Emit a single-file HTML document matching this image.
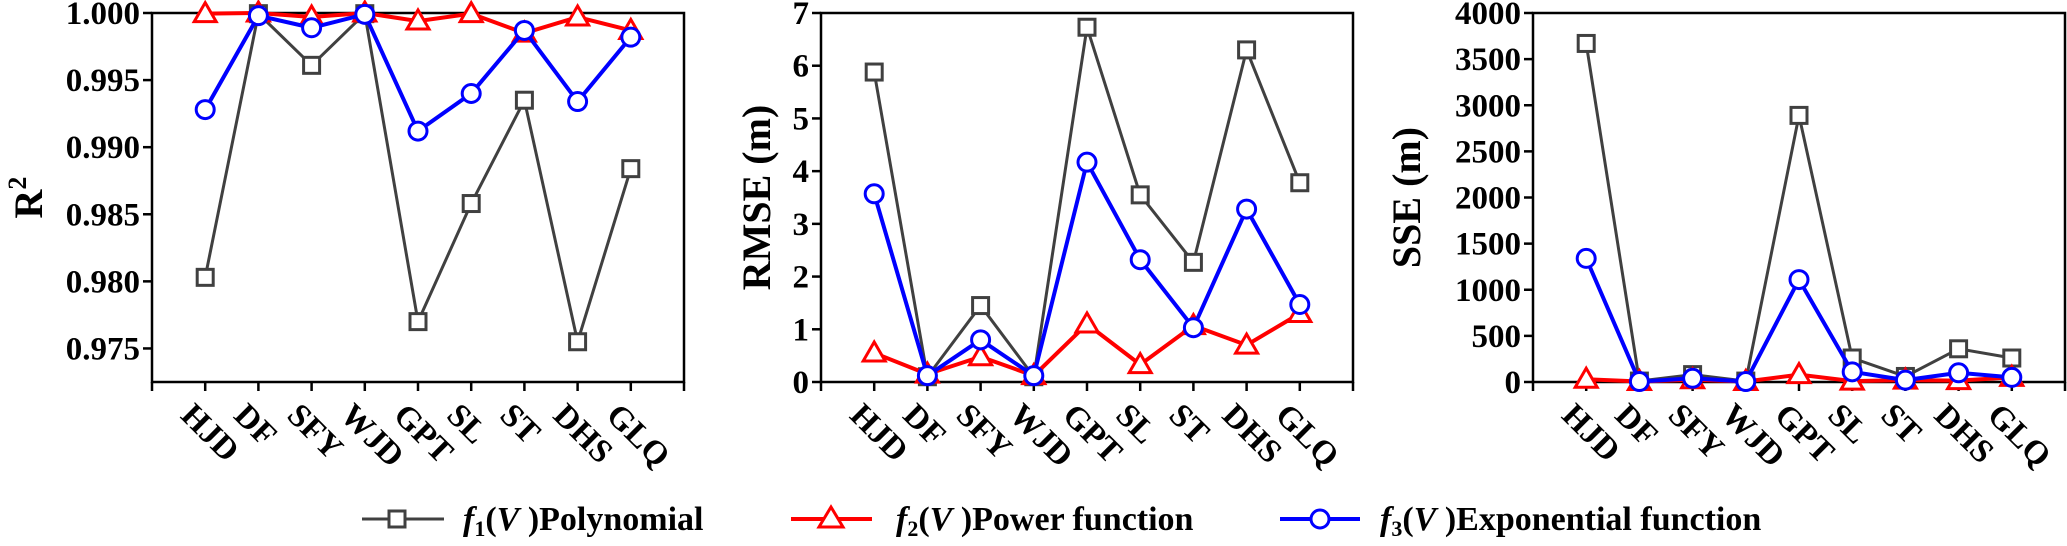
<!DOCTYPE html>
<html><head><meta charset="utf-8"><style>
html,body{margin:0;padding:0;background:#fff;}
svg, svg text{font-family:"Liberation Serif","DejaVu Serif",serif;font-weight:bold;}
</style></head><body>
<svg id="fig" width="2067" height="541" viewBox="0 0 2067 541" xmlns="http://www.w3.org/2000/svg" font-family="Liberation Serif, DejaVu Serif, serif" font-weight="bold">
<g id="legend">
  <g>
    <line x1="362" y1="519" x2="444" y2="519" stroke="#404040" stroke-width="3"/>
    <rect x="389" y="511" width="16" height="16" fill="#fff" stroke="#404040" stroke-width="3"/>
    <text x="463" y="530" font-size="34" font-family="Liberation Serif, serif"><tspan font-style="italic">f</tspan><tspan font-size="22" dy="6">1</tspan><tspan dy="-6">(</tspan><tspan font-style="italic">V</tspan> )Polynomial</text>
  </g>
  <g>
    <line x1="791" y1="519" x2="872" y2="519" stroke="#ff0000" stroke-width="4"/>
    <polygon points="831,507 843,527 819,527" fill="#fff" stroke="#ff0000" stroke-width="3"/>
    <text x="896" y="530" font-size="34" font-family="Liberation Serif, serif"><tspan font-style="italic">f</tspan><tspan font-size="22" dy="6">2</tspan><tspan dy="-6">(</tspan><tspan font-style="italic">V</tspan> )Power function</text>
  </g>
  <g>
    <line x1="1280" y1="519" x2="1360" y2="519" stroke="#0000ff" stroke-width="4"/>
    <circle cx="1320" cy="519" r="9" fill="#fff" stroke="#0000ff" stroke-width="3"/>
    <text x="1380" y="530" font-size="34" font-family="Liberation Serif, serif"><tspan font-style="italic">f</tspan><tspan font-size="22" dy="6">3</tspan><tspan dy="-6">(</tspan><tspan font-style="italic">V</tspan> )Exponential function</text>
  </g>
</g>
</svg>
<script>
const categories = ["HJD","DF","SFY","WJD","GPT","SL","ST","DHS","GLQ"];
const r2Poly  = [0.9803,0.99995,0.9961,0.99995,0.9770,0.9858,0.9935,0.9755,0.9884];
const r2Power = [0.99995,1.0000,0.9997,1.0000,0.9994,0.99995,0.9985,0.9997,0.9987];
const r2Exp   = [0.9928,0.9998,0.9989,0.9999,0.9912,0.9940,0.9987,0.9934,0.9982];
const r2Ticks = ["0.975","0.980","0.985","0.990","0.995","1.000"];
const rmsePoly  = [5.88,0.10,1.45,0.10,6.73,3.55,2.27,6.30,3.78];
const rmsePower = [0.55,0.15,0.48,0.12,1.10,0.33,1.07,0.70,1.30];
const rmseExp   = [3.57,0.12,0.80,0.12,4.17,2.32,1.03,3.28,1.47];
const rmseTicks = ["0","1","2","3","4","5","6","7"];
const ssePoly  = [3670,10,80,10,2890,260,60,360,260];
const ssePower = [30,5,25,5,80,10,20,15,50];
const sseExp   = [1340,5,40,5,1110,110,20,100,50];
const sseTicks = ["0","500","1000","1500","2000","2500","3000","3500","4000"];

const NS="http://www.w3.org/2000/svg";
const svg=document.getElementById('fig');
const FONT="Liberation Serif, DejaVu Serif, serif";
function mk(tag,attrs,parent){const e=document.createElementNS(NS,tag);for(const k in attrs)e.setAttribute(k,attrs[k]);(parent||svg).appendChild(e);return e;}

const panels=[
 {name:'r2',left:152,right:684,min:0.9725,max:1.0,ticks:r2Ticks,series:[r2Poly,r2Power,r2Exp],label:'R',sup:'2',labelX:42},
 {name:'rmse',left:821,right:1353,min:0,max:7,ticks:rmseTicks,series:[rmsePoly,rmsePower,rmseExp],label:'RMSE (m)',labelX:770},
 {name:'sse',left:1533,right:2065,min:0,max:4000,ticks:sseTicks,series:[ssePoly,ssePower,sseExp],label:'SSE (m)',labelX:1420}
];
const plotTop=13,plotBottom=382;
const styles=[{c:'#404040',w:3,m:'sq'},{c:'#ff0000',w:4,m:'tri'},{c:'#0000ff',w:4,m:'circ'}];
const snames=['polynomial','power','exponential'];

panels.forEach(p=>{
  const g=mk('g',{});
  
  
  const xs=i=>p.left+(i+1)*(p.right-p.left)/10;
  const ys=v=>plotBottom-(v-p.min)/(p.max-p.min)*(plotBottom-plotTop);
  const fr=mk('rect',{x:p.left,y:plotTop,width:p.right-p.left,height:plotBottom-plotTop,fill:'none',stroke:'#000','stroke-width':2.5},g);
  
  
  p.ticks.forEach(t=>{
    const v=parseFloat(t), y=ys(v);
    mk('line',{x1:p.left-9,x2:p.left,y1:y,y2:y,stroke:'#000','stroke-width':2.5},g);
    const tx=mk('text',{x:p.left-12,y:y+11,'font-size':33,'text-anchor':'end','font-family':FONT,'font-weight':'bold'},g);
    tx.textContent=t;
    
    
  });
  for(let i=-1;i<=9;i++){
    const x=p.left+(i+1)*(p.right-p.left)/10;
    mk('line',{x1:x,x2:x,y1:plotBottom,y2:plotBottom+9,stroke:'#000','stroke-width':2.5},g);
  }
  categories.forEach((c,i)=>{
    const x=xs(i)-26, y=417;
    const tx=mk('text',{x:x,y:y,'font-size':33,'font-family':FONT,'font-weight':'bold',transform:`rotate(45 ${x} ${y})`},g);
    tx.textContent=c;
    
    
  });
  const cy=(plotTop+plotBottom)/2;
  const yt=mk('text',{x:p.labelX,y:cy,'font-size':40,'text-anchor':'middle','font-family':FONT,'font-weight':'bold',transform:`rotate(-90 ${p.labelX} ${cy})`},g);
  
  
  if(p.sup){yt.textContent=p.label;const s=mk('tspan',{'font-size':26,dy:-16},yt);s.textContent=p.sup;}
  else yt.textContent=p.label;
  p.series.forEach((arr,si)=>{
    const st=styles[si];
    const sg=mk('g',{},g);
    
    
    const pts=arr.map((v,i)=>xs(i)+','+ys(v)).join(' ');
    mk('polyline',{points:pts,fill:'none',stroke:st.c,'stroke-width':st.w,'stroke-linejoin':'miter'},sg);
    arr.forEach((v,i)=>{
      const x=xs(i),y=ys(v);let m;
      if(st.m==='sq') m=mk('rect',{x:x-8,y:y-8,width:16,height:16,fill:'#fff',stroke:st.c,'stroke-width':3},sg);
      else if(st.m==='tri') m=mk('polygon',{points:`${x},${y-11} ${x+11},${y+8} ${x-11},${y+8}`,fill:'#fff',stroke:st.c,'stroke-width':3},sg);
      else m=mk('circle',{cx:x,cy:y,r:9,fill:'#fff',stroke:st.c,'stroke-width':3},sg);
      
      
    });
  });
});
</script>
</body></html>
